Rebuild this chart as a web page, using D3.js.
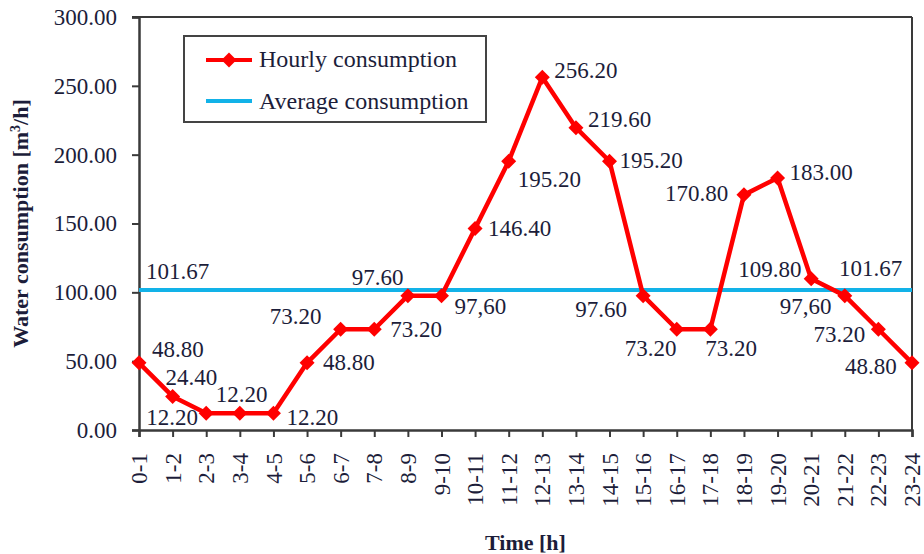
<!DOCTYPE html>
<html>
<head>
<meta charset="utf-8">
<script src="https://cdn.jsdelivr.net/npm/d3@7"></script>
<style>
  html, body { margin: 0; padding: 0; background: #fff; }
  svg { display: block; }
  svg text { font-family: "Liberation Serif", Tinos, "DejaVu Serif", "Noto Serif", "Times New Roman", Times, serif !important; fill: #1c1d3a; }
</style>
</head>
<body>
<svg id="chart" width="924" height="554"></svg>
<script>
// ---- data ----
const hours = ["0-1","1-2","2-3","3-4","4-5","5-6","6-7","7-8","8-9","9-10","10-11","11-12",
               "12-13","13-14","14-15","15-16","16-17","17-18","18-19","19-20","20-21","21-22","22-23","23-24"];
const hourly = [48.8,24.4,12.2,12.2,12.2,48.8,73.2,73.2,97.6,97.6,146.4,195.2,
                256.2,219.6,195.2,97.6,73.2,73.2,170.8,183.0,109.8,97.6,73.2,48.8];
const average = 101.67;
const pointLabels = ["48.80","24.40","12.20","12.20","12.20","48.80","73.20","73.20","97.60","97,60","146.40","195.20",
                     "256.20","219.60","195.20","97.60","73.20","73.20","170.80","183.00","109.80","97,60","73.20","48.80"];
const yTicks = [0,50,100,150,200,250,300];
const seriesNames = ["Hourly consumption","Average consumption"];

// ---- layout (label placement offsets in px, relative to the point) ----
const labelOffsets = [[13,-6],[-7,-11],[-60,12],[-24,-11],[13,12],[16,7],[-71,-5],[16,8],[-56,-11],[13,18],[13,8],[9,26],
                      [12,1],[12,-1],[10,7],[-68,21],[-52,27],[-5,27],[-79,6],[12,2],[-73,-2],[-65,18],[-65,13],[-67,11]];
const avgLabelOffsets = [[7,-11],[-73,-14]];

const FONT = '"Liberation Serif", Tinos, "DejaVu Serif", "Noto Serif", serif';
const svg = d3.select("#chart");
const L = 139, R = 912, T = 17, B = 430;
const x = d3.scalePoint().domain(hours).range([L, R]).padding(0);
const y = d3.scaleLinear().domain([0, 300]).range([B, T]);

const axisColor = "#3a3a3a";
const fs = 23;

// frame (top & right)
svg.append("line").attr("x1", L - 7).attr("x2", R).attr("y1", T).attr("y2", T)
  .attr("stroke", axisColor).attr("stroke-width", 2);
svg.append("line").attr("x1", R).attr("x2", R).attr("y1", T).attr("y2", B)
  .attr("stroke", axisColor).attr("stroke-width", 2);

// y axis
const yAxis = svg.append("g").attr("transform", `translate(${L},0)`)
  .call(d3.axisLeft(y).tickValues(yTicks).tickFormat(d3.format(".2f")).tickSize(7).tickPadding(15));
yAxis.attr("font-family", FONT);
yAxis.select(".domain").attr("stroke", axisColor).attr("stroke-width", 2.5);
yAxis.selectAll(".tick line").attr("stroke", axisColor).attr("stroke-width", 2);
yAxis.selectAll(".tick text").attr("font-size", fs).attr("fill", "#1c1d3a");

// x axis
const xAxis = svg.append("g").attr("transform", `translate(0,${B})`)
  .call(d3.axisBottom(x).tickSize(7));
xAxis.attr("font-family", FONT);
xAxis.select(".domain").attr("stroke", axisColor).attr("stroke-width", 2.5);
xAxis.selectAll(".tick line").attr("stroke", axisColor).attr("stroke-width", 2);
xAxis.selectAll(".tick text")
  .attr("font-size", fs).attr("fill", "#1c1d3a")
  .attr("text-anchor", "end")
  .attr("transform", "rotate(-90)")
  .attr("x", -23).attr("y", 0).attr("dy", "0.33em");

// average line
svg.append("line")
  .attr("x1", x(hours[0])).attr("x2", x(hours[hours.length - 1]))
  .attr("y1", y(average)).attr("y2", y(average))
  .attr("stroke", "#12b2e8").attr("stroke-width", 4);

// hourly line
const line = d3.line().x((d, i) => x(hours[i])).y(d => y(d));
svg.append("path").datum(hourly).attr("d", line)
  .attr("fill", "none").attr("stroke", "#ff0000").attr("stroke-width", 4.5).attr("stroke-linejoin", "round");

// diamond markers
const dm = 7.5;
svg.append("g").selectAll("path").data(hourly).join("path")
  .attr("d", (d, i) => {
    const cx = x(hours[i]), cy = y(d);
    return `M${cx},${cy - dm}L${cx + dm},${cy}L${cx},${cy + dm}L${cx - dm},${cy}Z`;
  })
  .attr("fill", "#ff0000");

// point labels
svg.append("g").attr("font-family", FONT).selectAll("text").data(hourly).join("text")
  .attr("x", (d, i) => x(hours[i]) + labelOffsets[i][0])
  .attr("y", (d, i) => y(d) + labelOffsets[i][1])
  .attr("font-size", fs)
  .text((d, i) => pointLabels[i]);

// average labels (at both ends)
[0, hours.length - 1].forEach((idx, k) => {
  svg.append("text")
    .attr("x", x(hours[idx]) + avgLabelOffsets[k][0])
    .attr("y", y(average) + avgLabelOffsets[k][1])
    .attr("font-size", fs).attr("font-family", FONT)
    .text(d3.format(".2f")(average));
});

// legend
const lg = svg.append("g").attr("font-family", FONT);
lg.append("rect").attr("x", 184).attr("y", 36).attr("width", 302).attr("height", 86)
  .attr("fill", "#fff").attr("stroke", "#444").attr("stroke-width", 2);
lg.append("line").attr("x1", 206).attr("x2", 252).attr("y1", 60).attr("y2", 60)
  .attr("stroke", "#ff0000").attr("stroke-width", 4);
lg.append("path").attr("d", `M229,${60 - dm}L${229 + dm},60L229,${60 + dm}L${229 - dm},60Z`).attr("fill", "#ff0000");
lg.append("line").attr("x1", 206).attr("x2", 252).attr("y1", 101).attr("y2", 101)
  .attr("stroke", "#12b2e8").attr("stroke-width", 4);
lg.append("text").attr("x", 259).attr("y", 67).attr("font-size", 24).text(seriesNames[0]);
lg.append("text").attr("x", 259).attr("y", 109).attr("font-size", 24).text(seriesNames[1]);

// axis titles
svg.append("text").attr("x", (L + R) / 2).attr("y", 550)
  .attr("text-anchor", "middle").attr("font-size", 22).attr("font-weight", "bold").attr("font-family", FONT)
  .text("Time [h]");
const yt = svg.append("text").attr("transform", `translate(28,${(T + B) / 2}) rotate(-90)`)
  .attr("text-anchor", "middle").attr("font-size", 22).attr("font-weight", "bold").attr("font-family", FONT);
yt.append("tspan").text("Water consumption  [m");
yt.append("tspan").attr("font-size", 14).attr("dy", -8).text("3");
yt.append("tspan").attr("dy", 8).text("/h]");
</script>
</body>
</html>
